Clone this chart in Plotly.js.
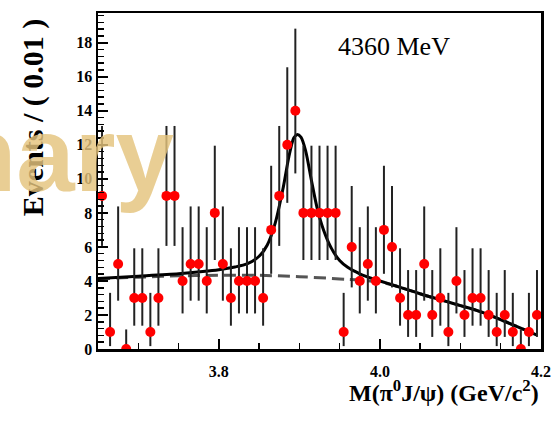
<!DOCTYPE html>
<html>
<head>
<meta charset="utf-8">
<script src="https://cdn.plot.ly/plotly-3.0.1.min.js"></script>
<style>html,body{margin:0;padding:0;background:#fff;}#chart{width:551px;height:424px;}</style>
</head>
<body>
<div id="chart"></div>
<script>
// Bin centres (bin width 0.01 GeV/c^2)
const binCenters = [3.655,3.665,3.675,3.685,3.695,3.705,3.715,3.725,3.735,3.745,
  3.755,3.765,3.775,3.785,3.795,3.805,3.815,3.825,3.835,3.845,
  3.855,3.865,3.875,3.885,3.895,3.905,3.915,3.925,3.935,3.945,
  3.955,3.965,3.975,3.985,3.995,4.005,4.015,4.025,4.035,4.045,
  4.055,4.065,4.075,4.085,4.095,4.105,4.115,4.125,4.135,4.145,
  4.155,4.165,4.175,4.185,4.195];
// Events per bin
const counts = [9,1,5,0,3,3,1,3,9,9,
  4,5,5,4,8,5,3,4,4,4,
  3,7,9,12,14,8,8,8,8,8,
  1,6,4,5,4,7,6,3,2,2,
  5,2,3,1,4,2,3,3,2,1,
  2,1,0,1,2];
// Poisson (68%) interval half-widths, indexed by count
const poissonUp   = [1.15,2.30,2.64,2.92,3.16,3.38,3.58,3.77,3.95,4.11,4.27,4.42,4.56,4.70,4.83];
const poissonDown = [0.00,0.83,1.29,1.63,1.91,2.16,2.38,2.58,2.77,2.94,3.11,3.26,3.41,3.55,3.68];

// Total fit curve
const fitX = [3.65,3.70,3.75,3.78,3.80,3.82,3.835,3.85,3.86,3.87,3.88,3.887,3.893,3.897,3.902,3.908,3.915,3.922,3.93,3.94,3.95,3.96,3.975,3.99,4.00,4.02,4.04,4.06,4.08,4.10,4.12,4.14,4.16,4.18,4.195];
const fitY = [4.15,4.28,4.42,4.55,4.66,4.82,5.0,5.45,6.1,7.4,9.5,11.3,12.4,12.6,12.45,11.6,9.9,8.3,7.0,5.9,5.2,4.8,4.42,4.15,4.0,3.7,3.4,3.1,2.83,2.55,2.27,1.92,1.52,1.12,0.82];
// Background curve (dashed)
const bkgX = [3.65,3.70,3.75,3.80,3.85,3.90,3.95,3.975,4.00,4.02,4.04,4.06,4.08,4.10,4.12,4.14,4.16,4.18,4.195];
const bkgY = [4.12,4.22,4.30,4.33,4.33,4.25,4.12,4.05,3.93,3.70,3.40,3.10,2.83,2.55,2.27,1.92,1.52,1.12,0.82];

const xTicks = [3.8,4.0,4.2];
const xTickText = ['3.8','4.0','4.2'];

const serif = 'Liberation Serif, Times New Roman, serif';

const traces = [
  {x: bkgX, y: bkgY, type:'scatter', mode:'lines', line:{color:'#555', width:3, dash:'12px,6px', shape:'spline'}, hoverinfo:'skip'},
  {x: fitX, y: fitY, type:'scatter', mode:'lines', line:{color:'#000', width:3, shape:'spline', smoothing:0.8}, hoverinfo:'skip'},
  {x: binCenters, y: counts, type:'scatter', mode:'markers',
   marker:{color:'#ff0000', size:10},
   error_y:{type:'data', symmetric:false, array: counts.map(n=>poissonUp[n]), arrayminus: counts.map(n=>poissonDown[n]), thickness:2, width:0, color:'#222'}}
];

const layout = {
  width:551, height:424,
  margin:{l:98, r:10, t:13, b:75},
  paper_bgcolor:'#fff', plot_bgcolor:'#fff',
  showlegend:false,
  xaxis:{range:[3.65,4.2], tickvals:xTicks, ticktext:xTickText, ticks:'inside', ticklen:10, tickwidth:1.5, tickcolor:'#000',
    showline:true, linewidth:2.5, linecolor:'#000', mirror:true, showgrid:false, zeroline:false,
    minor:{dtick:0.05, tick0:3.65, ticks:'inside', ticklen:6, tickwidth:1.5, tickcolor:'#000', showgrid:false},
    tickfont:{family:serif, size:16, weight:'bold', color:'#000'}, ticklabelstandoff:6},
  yaxis:{range:[0,19.75], dtick:2, tick0:0, ticks:'inside', ticklen:10, tickwidth:1.5, tickcolor:'#000',
    showline:true, linewidth:2.5, linecolor:'#000', mirror:true, showgrid:false, zeroline:false,
    minor:{dtick:0.4, tick0:0, ticks:'inside', ticklen:6, tickwidth:1.5, tickcolor:'#000', showgrid:false},
    tickfont:{family:serif, size:16, weight:'bold', color:'#000'}},
  annotations:[
    {text:'4360 MeV', xref:'paper', yref:'paper', x:0.668, y:0.899, xanchor:'center', yanchor:'middle', showarrow:false,
     font:{family:serif, size:26, color:'#000'}},
    {text:'M(π<sup>0</sup>J/ψ) (GeV/c<sup>2</sup>)', xref:'paper', yref:'paper', x:1.0, y:-0.125, xanchor:'right', yanchor:'middle', showarrow:false,
     font:{family:serif, size:24, weight:'bold', color:'#000'}},
    {text:'Events / ( 0.01 )', xref:'paper', yref:'paper', x:-0.1467, y:0.69, xanchor:'center', yanchor:'middle', textangle:-90, showarrow:false,
     font:{family:serif, size:30, weight:'bold', color:'#000'}},
    {text:'Preliminary', xref:'paper', yref:'paper', x:0.176, y:0.58, xanchor:'right', yanchor:'middle', showarrow:false,
     font:{family:'Liberation Sans, Arial, sans-serif', size:105, weight:'bold', color:'rgba(228,195,125,0.82)'}}
  ]
};

Plotly.newPlot('chart', traces, layout, {staticPlot:true, displayModeBar:false});
</script>
</body>
</html>
